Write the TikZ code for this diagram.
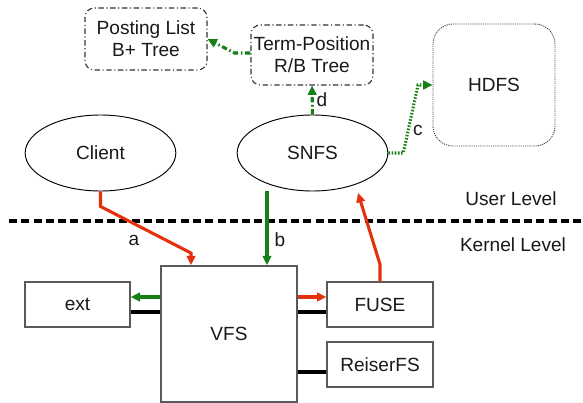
\documentclass[tikz,border=0pt]{standalone}
\usepackage{fontspec}
\setmainfont{Liberation Sans}
\usetikzlibrary{shapes.geometric,arrows.meta}
\definecolor{rd}{RGB}{228,48,12}
\definecolor{gn}{RGB}{22,128,22}
\definecolor{bd}{RGB}{90,90,90}
\begin{document}
\begin{tikzpicture}[x=0.75pt,y=-0.75pt,
  every node/.style={font=\fontsize{14.3}{16.5}\selectfont, text=black!90, align=center, inner sep=0pt},
  sqbox/.style={draw=bd, line width=1pt, minimum height=33.75pt},
  ddbox/.style={draw=black!80, line width=0.8pt, rounded corners=7pt, dash pattern=on 4pt off 2pt on 0.8pt off 2pt, minimum width=91.5pt},
  ell/.style={ellipse, draw=black, line width=0.7pt, minimum width=113pt, minimum height=57pt},
  redarrow/.style={draw=rd, line width=2.3pt, -{Triangle[length=7pt,width=6.5pt]}},
  greenarrow/.style={draw=gn, line width=2.3pt, -{Triangle[length=7pt,width=6.5pt]}},
  fsline/.style={draw=black, line width=2.4pt}
]
\useasboundingbox (0,0) rectangle (583,403);
% top boxes
\node[ddbox, minimum height=46.5pt] (post) at (146,39) {Posting List\\B+ Tree};
\node[ddbox, minimum height=45pt] (term) at (312,55) {Term-Position\\R/B Tree};
\node[draw=black!75, line width=0.7pt, dash pattern=on 0.8pt off 0.8pt, rounded corners=15pt, minimum width=91.5pt, minimum height=91.5pt] (hdfs) at (494,85) {HDFS};
% ellipses
\node[ell] (client) at (100.5,153) {Client};
\node[ell] (snfs) at (312.5,153) {SNFS};
% divider
\coordinate (dl) at (9,221);
\coordinate (dr) at (583,221);
\draw[black, line width=2.3pt, dash pattern=on 6pt off 3.2pt] (dl) -- (dr);
\node (user) at (511,199) {User Level};
\node (kernel) at (513,245) {Kernel Level};
% kernel boxes
\node[sqbox, minimum width=102pt, minimum height=102pt, line width=1.3pt] (vfs) at (229,334) {VFS};
\node[sqbox, minimum width=78.75pt] (ext) at (77.5,304.5) {ext};
\node[sqbox, minimum width=79.5pt] (fuse) at (380,304.5) {FUSE};
\node[sqbox, minimum width=79.5pt] (reiser) at (380,364.5) {ReiserFS};
% helper coordinates
\coordinate (yarr) at (0,297);
\coordinate (ythk) at (0,312);
\coordinate (yrs) at (0,372);
\coordinate (xb) at (267,0);
\coordinate (abend) at (191,253);
\coordinate (snfsin) at (358,193);
\coordinate (cup) at (418,85);
\coordinate (tw) at (0,53);
% thick black links
\draw[fsline] (ext.east |- ythk) -- (vfs.west |- ythk);
\draw[fsline] (vfs.east |- ythk) -- (fuse.west |- ythk);
\draw[fsline] (vfs.east |- yrs) -- (reiser.west |- yrs);
% arrows
\draw[greenarrow] (vfs.west |- yarr) -- (ext.east |- yarr);
\draw[redarrow] (vfs.east |- yarr) -- (fuse.west |- yarr);
\draw[redarrow] (client.south) -- ++(0,15) -- (abend) -- (abend |- vfs.north);
\draw[greenarrow] (xb |- snfs.south) -- (xb |- vfs.north);
\draw[redarrow] (fuse.north) -- ++(0,-17) -- (snfsin);
\draw[greenarrow, dash pattern=on 1.2pt off 1.2pt] (snfs.east) -- ++(15,0) -- (cup) -- (hdfs.west);
\draw[greenarrow, dash pattern=on 4pt off 2pt on 1.2pt off 2pt] (snfs.north) -- (term.south);
\draw[greenarrow, dash pattern=on 4pt off 2pt on 1.2pt off 2pt] (term.west |- tw) -- ++(-16,0) -- (post.east);
% labels
\node (la) at (134,240) {a};
\node (lb) at (280,240) {b};
\node (lc) at (418,130) {c};
\node (ld) at (322,100) {d};
\end{tikzpicture}
\end{document}
